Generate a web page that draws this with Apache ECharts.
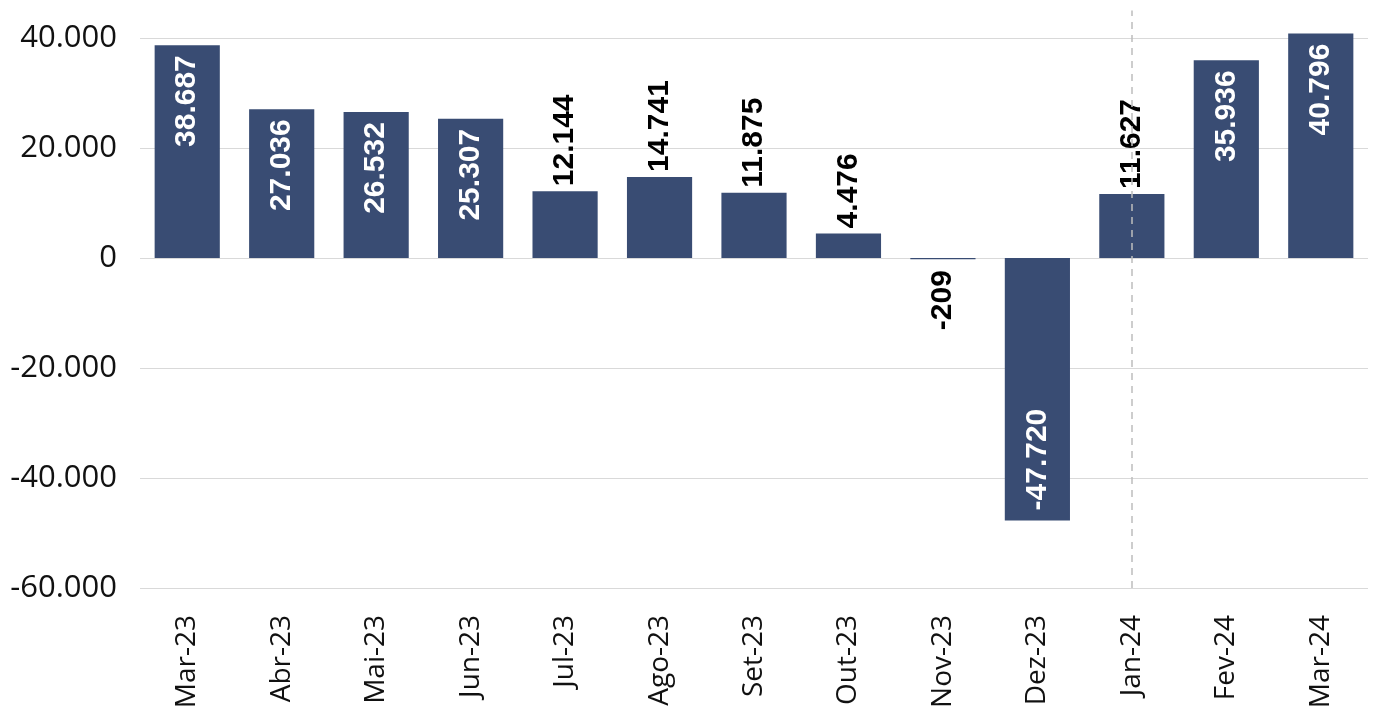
<!DOCTYPE html>
<html>
<head>
<meta charset="utf-8">
<script src="https://cdn.jsdelivr.net/npm/echarts@6/dist/echarts.min.js"></script>
<style>
html,body{margin:0;padding:0;background:#fff;}
#chart{width:1385px;height:713px;}
</style>
</head>
<body>
<div id="chart"></div>
<script>
var months = ['Mar-23','Abr-23','Mai-23','Jun-23','Jul-23','Ago-23','Set-23','Out-23','Nov-23','Dez-23','Jan-24','Fev-24','Mar-24'];
var saldo = [38687, 27036, 26532, 25307, 12144, 14741, 11875, 4476, -209, -47720, 11627, 35936, 40796];
var yTicks = [-60000, -40000, -20000, 0, 20000, 40000];

var barColor = '#394c73';

function fmt(v){
	var s = Math.abs(v).toString().replace(/\B(?=(\d{3})+(?!\d))/g, '.');
	return (v < 0 ? '-' : '') + s;
}

// labels go inside big bars, outside small ones
var data = saldo.map(function(v){
	var lbl;
	if (v >= 20000) {
		lbl = {position:'insideTop', align:'right', color:'#fff', distance:10};
	} else if (v >= 0) {
		lbl = {position:'top', align:'left', color:'#000', distance:5};
	} else if (v > -20000) {
		lbl = {position:'bottom', align:'right', color:'#000', distance:11};
	} else {
		lbl = {position:'insideBottom', align:'left', color:'#fff', distance:10};
	}
	return {value:v, label:lbl};
});

var myChart = echarts.init(document.getElementById('chart'));
var option = {
	animation:false,
	grid:{left:140, right:17, top:10.5, bottom:125},
	xAxis:{
		type:'category',
		data:months,
		axisLine:{show:false},
		axisTick:{show:false},
		axisLabel:{
			interval:0,
			rotate:90,
			margin:27,
			color:'#111',
			fontFamily:'Open Sans',
			fontSize:28
		}
	},
	yAxis:{
		type:'value',
		min:yTicks[0],
		max:45000,
		interval:20000,
		axisLine:{show:false},
		axisTick:{show:false},
		splitLine:{showMaxLine:false, lineStyle:{color:'#d9d9d9', width:1}},
		axisLabel:{
			margin:23,
			color:'#111',
			fontFamily:'Open Sans',
			fontSize:31,
			formatter:function(v){ return yTicks.indexOf(v) >= 0 ? fmt(v) : ''; }
		}
	},
	series:[{
		type:'bar',
		data:data,
		barWidth:'69%',
		itemStyle:{color:barColor},
		label:{
			show:true,
			rotate:90,
			verticalAlign:'middle',
			fontFamily:'Liberation Sans',
			fontWeight:'bold',
			fontSize:30,
			formatter:function(p){ return fmt(p.value); }
		},
		markLine:{
			silent:true,
			symbol:'none',
			label:{show:false},
			lineStyle:{color:'#bdbdbd', type:[7,6], width:1.5},
			data:[{xAxis:'Jan-24'}]
		},
		z:2
	}]
};
myChart.setOption(option);
</script>
</body>
</html>
